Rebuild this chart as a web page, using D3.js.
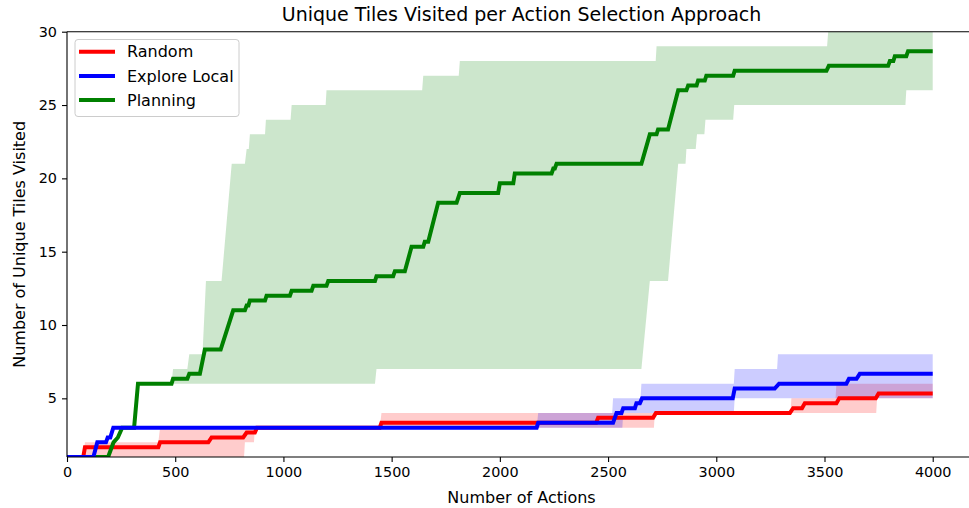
<!DOCTYPE html>
<html>
	<head>
		<style>
			body { margin: 0; background: white; }
			text { font-family: "DejaVu Sans", sans-serif; fill: #000; }
		</style>
	</head>
	<body>
		<script src="https://cdn.jsdelivr.net/npm/d3@7"></script>
		<div id="canvas"></div>
		<script>
			// [actions, tiles] corner points
			var randomMean = [[0,1],[75,1],[83,1.67],[422,1.67],[430,2],[653,2],[668,2.33],[814,2.33],[830,2.67],[868,2.67],[878,3],[1445,3],[1453,3.33],[2445,3.33],[2454,3.67],[2708,3.67],[2721,4],[3340,4],[3355,4.33],[3396,4.33],[3409,4.67],[3555,4.67],[3568,5],[3737,5],[3750,5.33],[4000,5.33]];
			var randomMax = [[0,1],[75,1],[83,2],[422,2],[430,3],[1445,3],[1453,4],[3343,4],[3347,5],[3551,5],[3555,6],[4000,6]];
			var randomMin = [[0,1],[818,1],[822,2],[864,2],[868,3],[2712,3],[2716,4],[3739,4],[3743,5],[4000,5]];

			var exploreMean = [[0,1],[122,1],[140,2],[180,2],[188,2.33],[200,2.33],[214,3],[2170,3],[2177,3.33],[2523,3.33],[2539,4],[2562,4],[2570,4.33],[2624,4.33],[2631,4.67],[2647,4.67],[2657,5],[3076,5],[3085,5.67],[3270,5.67],[3290,6],[3601,6],[3613,6.33],[3648,6.33],[3663,6.67],[4000,6.67]];
			var exploreMax = [[0,1],[122,1],[140,2],[200,2],[214,3],[2170,3],[2177,4],[2519,4],[2523,5],[2650,5],[2654,6],[3081,6],[3085,7],[3281,7],[3285,8],[4000,8]];
			var exploreMin = [[0,1],[122,1],[140,2],[200,2],[214,3],[2566,3],[2570,4],[3081,4],[3085,5],[4000,5]];

			var planningMean = [[0,1],[190,1],[215,2],[235,2.33],[255,3],[310,3],[328,6],[483,6],[490,6.33],[556,6.33],[565,6.67],[614,6.67],[637,8.33],[710,8.33],[768,11],[822,11],[830,11.33],[838,11.33],[845,11.67],[915,11.67],[922,12],[1030,12],[1038,12.33],[1130,12.33],[1138,12.67],[1199,12.67],[1207,13],[1423,13],[1430,13.33],[1507,13.33],[1515,13.67],[1561,13.67],[1592,15.33],[1646,15.33],[1653,15.67],[1669,15.67],[1715,18.33],[1800,18.33],[1815,19],[1992,19],[2000,19.67],[2062,19.67],[2069,20.33],[2239,20.33],[2247,20.67],[2254,20.67],[2262,21],[2654,21],[2693,23],[2724,23],[2731,23.33],[2777,23.33],[2824,26],[2862,26],[2870,26.33],[2909,26.33],[2916,26.67],[2947,26.67],[2954,27],[3078,27],[3085,27.33],[3509,27.33],[3520,27.67],[3794,27.67],[3802,28],[3818,28],[3825,28.33],[3878,28.33],[3886,28.67],[4000,28.67]];
			var planningMax = [[0,1],[190,1],[255,3],[310,3],[328,6],[483,6],[490,7],[556,7],[565,8],[626,8],[642,13],[714,13],[761,21],[822,21],[830,22],[840,22],[845,23],[915,23],[919,24],[1033,24],[1038,25],[1195,25],[1199,26],[1641,26],[1646,27],[1810,27],[1815,28],[2720,28],[2724,29],[3512,29],[3517,30],[4000,30]];
			var planningMin = [[0,1],[190,1],[255,3],[310,3],[328,6],[1423,6],[1430,7],[2654,7],[2693,13],[2777,13],[2824,21],[2858,21],[2862,22],[2905,22],[2911,23],[2945,23],[2950,24],[3078,24],[3083,25],[3874,25],[3878,26],[4000,26]];

			var seriesNames = ["Random", "Explore Local", "Planning"];
			var seriesColors = ["#ff0000", "#0000ff", "#008000"];
			var xTicks = [0, 500, 1000, 1500, 2000, 2500, 3000, 3500, 4000];
			var yTicks = [5, 10, 15, 20, 25, 30];

			var width = 969;
			var height = 508;
			var plotLeft = 67, plotRight = 976, plotTop = 31.7, plotBottom = 457;

			var svg = d3.select("#canvas")
				.append("svg")
				.attr("width", width)
				.attr("height", height);

			var x = d3.scaleLinear().domain([0, 4200]).range([plotLeft, plotRight]);
			var y = d3.scaleLinear().domain([1, 30]).range([plotBottom, plotTop]);

			svg.append("clipPath")
				.attr("id", "plot_clip")
				.append("rect")
				.attr("x", plotLeft)
				.attr("y", plotTop)
				.attr("width", plotRight - plotLeft)
				.attr("height", plotBottom - plotTop);

			var line = d3.line()
				.x(function (d) { return x(d[0]); })
				.y(function (d) { return y(d[1]); });

			var series = [
				{ mean: randomMean, hi: randomMax, lo: randomMin },
				{ mean: exploreMean, hi: exploreMax, lo: exploreMin },
				{ mean: planningMean, hi: planningMax, lo: planningMin }
			];

			var plot = svg.append("g").attr("clip-path", "url(#plot_clip)");

			plot.selectAll(".band")
				.data(series)
				.enter()
				.append("path")
				.attr("class", "band")
				.attr("d", function (d) { return line(d.hi.concat(d.lo.slice().reverse())) + "Z"; })
				.style("fill", function (d, i) { return seriesColors[i]; })
				.style("fill-opacity", 0.2)
				.style("stroke", "none");

			// random, planning, then explore local on top
			[0, 2, 1].forEach(function (i) {
				plot.append("path")
					.attr("class", "mean_line")
					.attr("d", line(series[i].mean))
					.style("fill", "none")
					.style("stroke", seriesColors[i])
					.style("stroke-width", 4);
			});

			// spines
			var spines = svg.append("g");
			spines.append("line").attr("x1", plotLeft).attr("x2", plotLeft).attr("y1", plotTop).attr("y2", plotBottom);
			spines.append("line").attr("x1", plotLeft).attr("x2", plotRight).attr("y1", plotBottom).attr("y2", plotBottom);
			spines.append("line").attr("x1", plotLeft).attr("x2", plotRight).attr("y1", plotTop).attr("y2", plotTop);
			spines.selectAll("line").style("stroke", "#000").style("stroke-width", 1.1);

			var xAxis = svg.append("g")
				.attr("transform", "translate(0," + plotBottom + ")")
				.call(d3.axisBottom(x).tickValues(xTicks).tickSize(5).tickPadding(5).tickFormat(d3.format("d")));
			var yAxis = svg.append("g")
				.attr("transform", "translate(" + plotLeft + ",0)")
				.call(d3.axisLeft(y).tickValues(yTicks).tickSize(5).tickPadding(5).tickFormat(d3.format("d")));
			[xAxis, yAxis].forEach(function (a) {
				a.select(".domain").remove();
				a.selectAll("line").style("stroke", "#000").style("stroke-width", 1.1);
				a.selectAll("text").style("font-size", "14.4px").style("font-family", "DejaVu Sans");
			});

			svg.append("text")
				.attr("x", (plotLeft + plotRight) / 2)
				.attr("y", 21)
				.attr("text-anchor", "middle")
				.style("font-size", "19px")
				.text("Unique Tiles Visited per Action Selection Approach");

			svg.append("text")
				.attr("x", (plotLeft + plotRight) / 2)
				.attr("y", 503)
				.attr("text-anchor", "middle")
				.style("font-size", "16px")
				.text("Number of Actions");

			svg.append("text")
				.attr("transform", "translate(25," + ((plotTop + plotBottom) / 2) + ") rotate(-90)")
				.attr("text-anchor", "middle")
				.style("font-size", "16px")
				.text("Number of Unique Tiles Visited");

			var legend = svg.append("g").attr("transform", "translate(75,39.5)");
			legend.append("rect")
				.attr("width", 164)
				.attr("height", 77)
				.attr("rx", 3)
				.style("fill", "white")
				.style("fill-opacity", 0.8)
				.style("stroke", "#cccccc")
				.style("stroke-width", 1);
			var items = legend.selectAll(".item")
				.data(seriesNames)
				.enter()
				.append("g")
				.attr("class", "item")
				.attr("transform", function (d, i) { return "translate(0," + (12.2 + i * 24.2) + ")"; });
			items.append("line")
				.attr("x1", 4)
				.attr("x2", 40)
				.style("stroke", function (d, i) { return seriesColors[i]; })
				.style("stroke-width", 4);
			items.append("text")
				.attr("x", 52)
				.attr("y", 5.6)
				.style("font-size", "16px")
				.text(function (d) { return d; });
		</script>
	</body>
</html>
